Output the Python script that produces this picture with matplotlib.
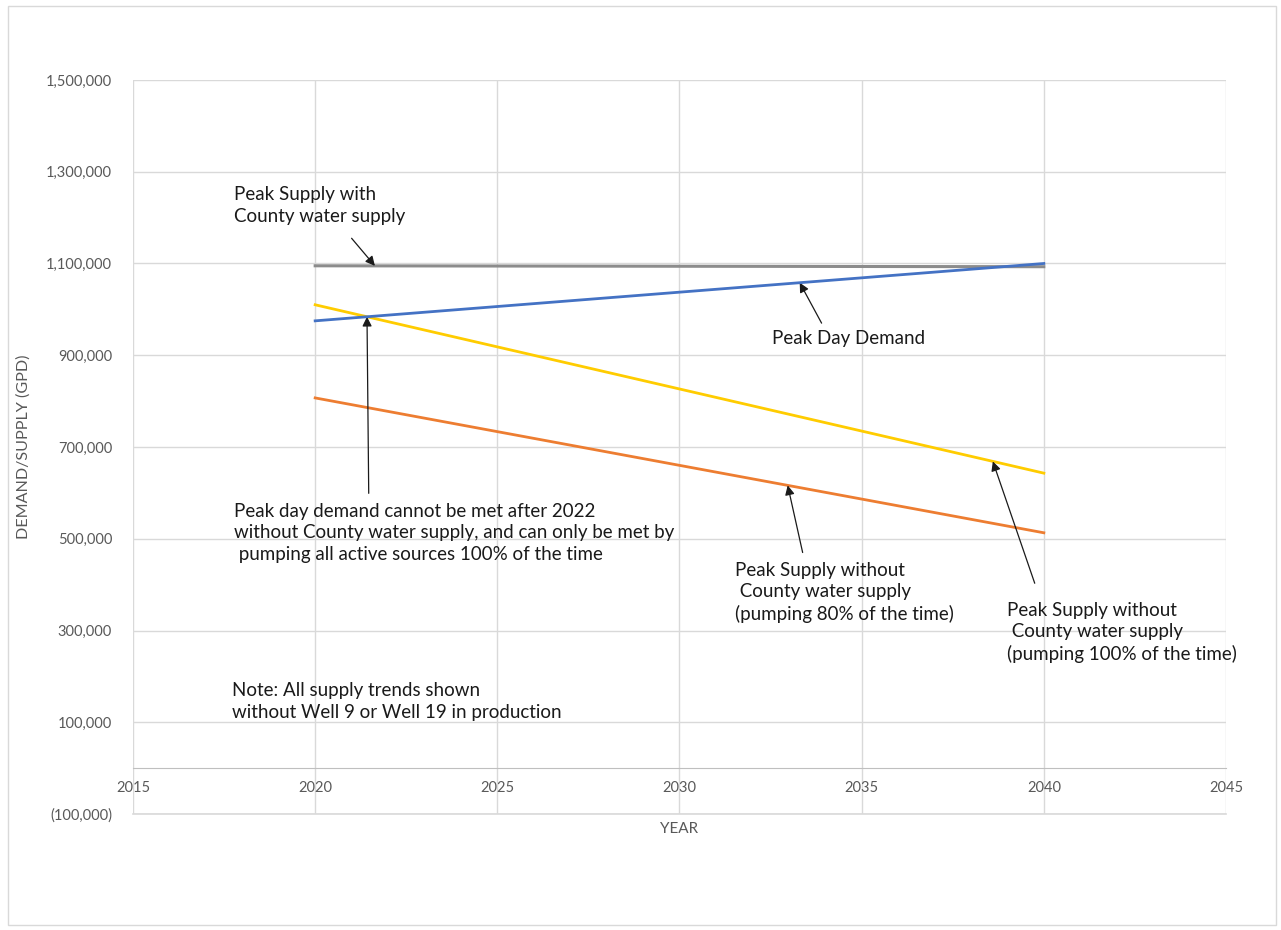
import numpy as np
import matplotlib.pyplot as plt
from matplotlib.patches import Rectangle
from matplotlib.ticker import FuncFormatter

plt.rcParams['font.family'] = ['Lato', 'DejaVu Sans']

years = [2020, 2040]
supply_county = [1095000, 1093000]
peak_demand = [975000, 1100000]
supply_100 = [1010000, 643000]
supply_80 = [807000, 513000]

x_ticks = [2015, 2020, 2025, 2030, 2035, 2040, 2045]
y_ticks = [-100000, 100000, 300000, 500000, 700000, 900000, 1100000, 1300000, 1500000]

fig = plt.figure(figsize=(12.81, 9.3), dpi=100)
fig.patches.append(Rectangle((8/1281, 5/930), 1268/1281, 919/930, transform=fig.transFigure,
                             fill=False, edgecolor='#d9d9d9', lw=1))
ax = fig.add_axes([133/1281, 1 - 814/930, 1093/1281, 734/930])

ax.plot(years, supply_county, color='#8c8c8c', lw=2.2, zorder=3)
ax.plot(years, peak_demand, color='#4472c4', lw=2.0, zorder=4)
ax.plot(years, supply_100, color='#ffcc00', lw=2.0, zorder=3)
ax.plot(years, supply_80, color='#ed7d31', lw=2.0, zorder=3)

ax.set_xlim(2015, 2045)
ax.set_ylim(-100000, 1500000)
ax.set_xticks(x_ticks)
ax.set_yticks(y_ticks)
ax.yaxis.set_major_formatter(FuncFormatter(
    lambda v, p: f'({abs(v):,.0f})' if v < 0 else f'{v:,.0f}'))
ax.grid(True, color='#d9d9d9', lw=1)
ax.axhline(-100000, color='#d9d9d9', lw=1.2, clip_on=False, zorder=0)
ax.set_axisbelow(True)
for s in ['top', 'right', 'left']:
    ax.spines[s].set_visible(False)
ax.spines['bottom'].set_position(('data', 0))
ax.spines['bottom'].set_color('#bfbfbf')
ax.tick_params(length=0, colors='#595959', labelsize=10.5)
ax.tick_params(axis='y', pad=15)
ax.tick_params(axis='x', pad=9)

ax.set_ylabel('DEMAND/SUPPLY (GPD)', color='#595959', fontsize=11.6)
ax.yaxis.set_label_coords(-0.094, 0.5)
ax.set_xlabel('YEAR', color='#595959', fontsize=11)
ax.xaxis.set_label_coords(0.5, -0.011)

# crossing of demand and 100% supply
t = (supply_100[0] - peak_demand[0]) / ((peak_demand[1] - peak_demand[0]) - (supply_100[1] - supply_100[0]))
cross_x = years[0] + t * (years[1] - years[0])
cross_y = np.interp(cross_x, years, peak_demand)

arrow = dict(arrowstyle='-|>', color='#1a1a1a', lw=0.9, mutation_scale=14, shrinkA=0, shrinkB=0)
fs = 13.5
ls = 1.33
tc = '#1a1a1a'

ax.text(2017.77, 1226000, 'Peak Supply with\nCounty water supply', fontsize=fs, color=tc,
        ha='left', va='center', linespacing=ls)
ax.annotate('', xy=(2021.64, np.interp(2021.64, years, supply_county)),
            xytext=(2021.0, 1155000), arrowprops=arrow)

ax.text(2032.53, 937000, 'Peak Day Demand', fontsize=fs, color=tc, ha='left', va='center')
ax.annotate('', xy=(2033.3, np.interp(2033.3, years, peak_demand)),
            xytext=(2033.9, 970000), arrowprops=arrow)

ax.text(2017.77, 513000,
        'Peak day demand cannot be met after 2022\nwithout County water supply, and can only be met by\n pumping all active sources 100% of the time',
        fontsize=fs, color=tc, ha='left', va='center', linespacing=ls)
ax.annotate('', xy=(cross_x, cross_y), xytext=(2021.47, 599000), arrowprops=arrow)

ax.text(2031.52, 383000,
        'Peak Supply without\n County water supply\n(pumping 80% of the time)',
        fontsize=fs, color=tc, ha='left', va='center', linespacing=ls)
ax.annotate('', xy=(2032.97, np.interp(2032.97, years, supply_80)),
            xytext=(2033.38, 470000), arrowprops=arrow)

ax.text(2039.0, 296000,
        'Peak Supply without\n County water supply\n(pumping 100% of the time)',
        fontsize=fs, color=tc, ha='left', va='center', linespacing=ls)
ax.annotate('', xy=(2038.6, np.interp(2038.6, years, supply_100)),
            xytext=(2039.75, 403000), arrowprops=arrow)

ax.text(2017.72, 145000, 'Note: All supply trends shown\nwithout Well 9 or Well 19 in production',
        fontsize=fs, color=tc, ha='left', va='center', linespacing=ls)

fig.savefig('out.png', dpi=100)
